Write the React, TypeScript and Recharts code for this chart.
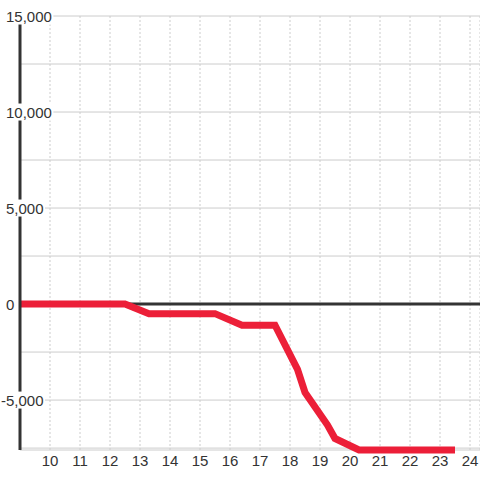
import React from 'react';
import { LineChart, Line, XAxis, YAxis, CartesianGrid, ReferenceLine } from 'recharts';

// hours of the day and cumulative change
const hours = [9, 12.5, 13.3, 15.5, 16.4, 17.5, 18.25, 18.5, 19.25, 19.5, 20.3, 23.5];
const values = [0, 0, -500, -500, -1100, -1100, -3400, -4600, -6300, -7000, -7600, -7600];
const xTicks = [10, 11, 12, 13, 14, 15, 16, 17, 18, 19, 20, 21, 22, 23, 24];
const yTicks = [-7500, -5000, -2500, 0, 2500, 5000, 7500, 10000, 12500, 15000];

const data = hours.map((h, i) => ({ hour: h, value: values[i] }));

const FONT = 15;
const textWidth = (s: string) =>
  s.split('').reduce((w, c) => w + (c === ',' ? 0.278 : c === '-' ? 0.333 : 0.556) * FONT, 0);

const YTick = (props: any) => {
  const { y, payload } = props;
  const v = payload.value as number;
  if (v % 5000 !== 0) return <g />;
  const body = Math.abs(v).toLocaleString('en-US');
  const end = 6 + textWidth(body);
  const label = v < 0 ? '-' + body : body;
  const startX = v < 0 ? 6 - 0.333 * FONT : 6;
  return (
    <g>
      <rect x={0} y={y - 8.5} width={end + 1.5} height={17} fill="#ffffff" />
      <text x={startX} y={y} dy={6} fontSize={FONT} fill="#333" textAnchor="start">
        {label}
      </text>
    </g>
  );
};

export default function App() {
  return (
    <div style={{ position: 'absolute', left: 0, top: 0, width: 480, height: 480, background: '#fff', fontFamily: '"Liberation Sans", Arial, sans-serif' }}>
      <LineChart width={480} height={480} data={data} margin={{ top: 16, right: 0, bottom: 0, left: 0 }}>
        <CartesianGrid vertical={false} stroke="#cccccc" />
        <CartesianGrid horizontal={false} stroke="#cccccc" strokeDasharray="2 2" />
        <XAxis
          dataKey="hour"
          type="number"
          domain={[9, 24 + 1 / 3]}
          ticks={xTicks}
          interval={0}
          axisLine={false}
          tickLine={false}
          tickSize={3}
          height={30}
          tick={{ fontSize: FONT, fill: '#333' }}
        />
        <YAxis
          type="number"
          domain={[-7600, 15000]}
          ticks={yTicks}
          interval={0}
          width={20}
          axisLine={{ stroke: '#333', strokeWidth: 3 }}
          tickLine={false}
          tick={<YTick />}
        />
        <ReferenceLine y={0} stroke="#333" strokeWidth={3} />
        <Line
          type="linear"
          dataKey="value"
          stroke="#ec1f38"
          strokeWidth={7}
          dot={false}
          activeDot={false}
          isAnimationActive={false}
        />
      </LineChart>
    </div>
  );
}
